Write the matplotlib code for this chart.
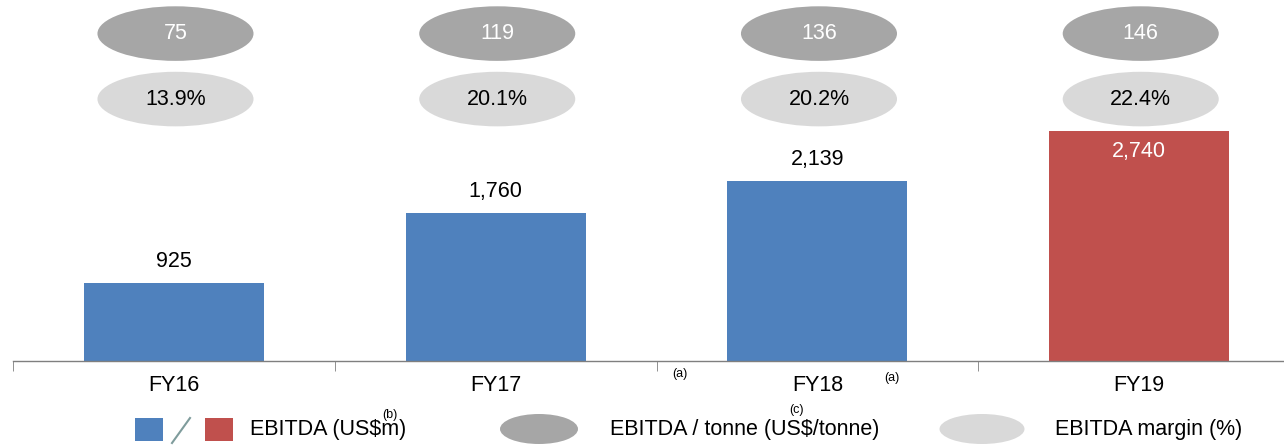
import matplotlib
matplotlib.use("Agg")
import matplotlib.pyplot as plt
from matplotlib.patches import Ellipse, Rectangle
from matplotlib.lines import Line2D

plt.rcParams['font.family'] = ['Liberation Sans', 'DejaVu Sans']

years = ["FY16", "FY17", "FY18", "FY19"]
ebitda = [925, 1760, 2139, 2740]
ebitda_per_tonne = [75, 119, 136, 146]
ebitda_margin = [13.9, 20.1, 20.2, 22.4]

BLUE = "#4F81BD"
RED = "#C0504D"
DARK = "#A6A6A6"
LIGHT = "#D9D9D9"
AXIS = "#7F7F7F"

W, H = 1284, 445
fig = plt.figure(figsize=(W / 100, H / 100), dpi=100)
ax = fig.add_axes([13 / W, 84 / H, 1287 / W, 361 / H])
ax.set_xlim(-0.5, 3.5)
ax.set_ylim(0, 4300)

x = list(range(len(years)))
colors = [BLUE, BLUE, BLUE, RED]
ax.bar(x, ebitda, width=0.56, color=colors, zorder=2)

fs = 15.5
for xi, v, c in zip(x, ebitda, colors):
    label = f"{v:,}"
    if c == RED:
        ax.text(xi, v - 240, label, ha="center", va="center", color="white", fontsize=fs)
    else:
        ax.text(xi, v + 260, label, ha="center", va="center", color="black", fontsize=fs)

for xi, t, m in zip(x, ebitda_per_tonne, ebitda_margin):
    ax.add_patch(Ellipse((xi + 0.005, 3900), 0.485, 650, facecolor=DARK, edgecolor="none"))
    ax.text(xi + 0.005, 3900, f"{t}", ha="center", va="center", color="white", fontsize=fs)
    ax.add_patch(Ellipse((xi + 0.005, 3120), 0.485, 650, facecolor=LIGHT, edgecolor="none"))
    ax.text(xi + 0.005, 3120, f"{m:.1f}%", ha="center", va="center", color="black", fontsize=fs)

for s in ["top", "left", "right"]:
    ax.spines[s].set_visible(False)
ax.spines["bottom"].set_color(AXIS)
ax.spines["bottom"].set_linewidth(1.0)
ax.set_yticks([])
ax.set_xticks(x)
ax.set_xticklabels(years, fontsize=fs)
ax.tick_params(axis="x", which="major", length=0, pad=10)
ax.set_xticks([-0.5, 0.5, 1.5, 2.5, 3.5], minor=True)
ax.tick_params(axis="x", which="minor", length=7, color=AXIS, direction="out")

# footnote markers
fig.text(680 / W, 1 - 374 / H, "(a)", ha="center", va="center", fontsize=9)
fig.text(892 / W, 1 - 378 / H, "(a)", ha="center", va="center", fontsize=9)

# legend
ly = 1 - 429 / H
fig.add_artist(Rectangle((135 / W, 1 - 441 / H), 28 / W, 23 / H, transform=fig.transFigure,
                         facecolor=BLUE, edgecolor="none"))
fig.add_artist(Line2D([172 / W, 190 / W], [1 - 443 / H, 1 - 418 / H], transform=fig.transFigure,
                      color="#7F9C9C", linewidth=1.5))
fig.add_artist(Rectangle((205 / W, 1 - 441 / H), 28 / W, 23 / H, transform=fig.transFigure,
                         facecolor=RED, edgecolor="none"))
fig.text(250 / W, ly, "EBITDA (US$m)", ha="left", va="center", fontsize=fs)
fig.text(390 / W, 1 - 415 / H, "(b)", ha="center", va="center", fontsize=9)

fig.add_artist(Ellipse((539 / W, ly), 78 / W, 30 / H, transform=fig.transFigure,
                       facecolor=DARK, edgecolor="none"))
fig.text(610 / W, ly, "EBITDA / tonne (US$/tonne)", ha="left", va="center", fontsize=fs)
fig.text(796 / W, 1 - 410 / H, "(c)", ha="center", va="center", fontsize=9)

fig.add_artist(Ellipse((982 / W, ly), 85 / W, 30 / H, transform=fig.transFigure,
                       facecolor=LIGHT, edgecolor="none"))
fig.text(1055 / W, ly, "EBITDA margin (%)", ha="left", va="center", fontsize=fs)

fig.savefig("out.png", dpi=100)
